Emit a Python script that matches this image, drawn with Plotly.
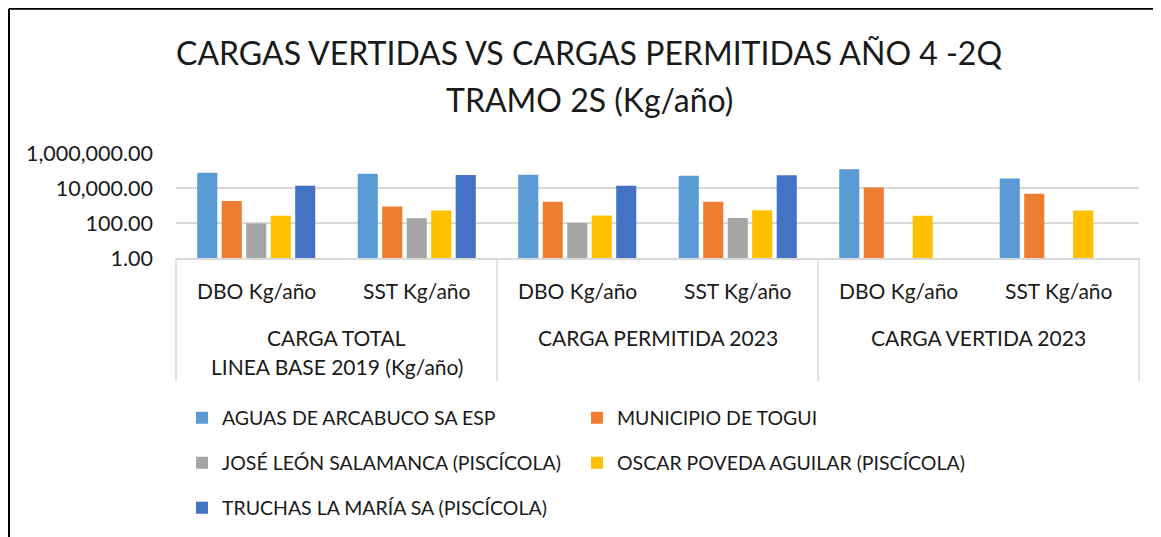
import plotly.graph_objects as go

# ---------------- data ----------------
groups = ["CARGA TOTAL<br>LINEA BASE 2019 (Kg/año)", "CARGA PERMITIDA 2023", "CARGA VERTIDA 2023"]
params = ["DBO Kg/año", "SST Kg/año"]
series_names = [
    "AGUAS DE ARCABUCO SA ESP",
    "MUNICIPIO DE TOGUI",
    "JOSÉ LEÓN SALAMANCA (PISCÍCOLA)",
    "OSCAR POVEDA AGUILAR (PISCÍCOLA)",
    "TRUCHAS LA MARÍA SA (PISCÍCOLA)",
]
aguas = [74600, 66000, 57500, 50600, 116000, 34500]
togui = [1820, 870, 1660, 1660, 10700, 4700]
jose = [93, 184, 100, 190, None, None]
oscar = [263, 525, 270, 540, 263, 525]
truchas = [13300, 55500, 13300, 53000, None, None]
series_values = [aguas, togui, jose, oscar, truchas]
colors = ["#5B9BD5", "#ED7D31", "#A5A5A5", "#FFC000", "#4472C4"]
y_ticks = [1, 100, 10000, 1000000]
title_lines = ["CARGAS VERTIDAS VS CARGAS PERMITIDAS AÑO 4 -2Q", "TRAMO 2S (Kg/año)"]

# ---------------- layout helpers ----------------
# page body has an 8px margin: figure origin sits at (8, 8) of the window
OX, OY = 8, 8
W, H = 1161 - OX, 537 - OY
L, R, T, B = 176 - OX, 1139 - OX, 153 - OY, 258.5 - OY

def fx(x):  # window px -> paper x
    return (x - OX - L) / (R - L)
def fy(y):  # window px -> paper y
    return (B - (y - OY)) / (B - T)
def cx(x):  # window px -> container x
    return (x - OX) / W
def cy(y):  # window px -> container y
    return 1 - (y - OY) / H

FONT = "Lato"
TXT = "#1a1a1a"
GRID = "#D9D9D9"

x_outer = [g for g in groups for p in params]
x_inner = [p for g in groups for p in params]
ncat = len(x_inner)

# legend slots: two columns, three rows (one single-entry legend per slot)
legend_ids = ["legend", "legend4", "legend2", "legend5", "legend3"]
legend_pos = {
    "legend": (182, 418), "legend4": (577, 418),
    "legend2": (182, 463), "legend5": (577, 463),
    "legend3": (182, 508),
}

fig = go.Figure()
for name, vals, col, lg in zip(series_names, series_values, colors, legend_ids):
    fig.add_trace(go.Bar(
        x=[x_outer, x_inner], y=vals, name=name,
        marker=dict(color=col, line=dict(width=0)),
        legend=lg,
    ))

legend_common = dict(
    orientation="h", xanchor="left", yanchor="middle",
    xref="container", yref="container",
    font=dict(family=FONT, size=19.5, color=TXT),
    bgcolor="rgba(0,0,0,0)", borderwidth=0,
)
legend_layout = {k: dict(x=cx(px_), y=cy(py_), **legend_common) for k, (px_, py_) in legend_pos.items()}

fig.update_layout(
    width=W, height=H,
    margin=dict(l=L, r=W - R, t=T, b=H - B, autoexpand=False),
    paper_bgcolor="white", plot_bgcolor="white",
    barmode="group", bargap=0.237, bargroupgap=0.18,
    showlegend=True,
    **legend_layout,
    xaxis=dict(
        type="multicategory",
        showgrid=False, showticklabels=False, showdividers=False,
        showline=True, linecolor=GRID, linewidth=1.5,
        ticks="",
    ),
    yaxis=dict(
        type="log", range=[0, 6],
        tickmode="array", tickvals=y_ticks,
        ticktext=[f"{v:,.2f}" for v in y_ticks],
        showgrid=True, gridcolor=GRID, gridwidth=1.5,
        zeroline=False, showline=False, ticks="",
        tickfont=dict(family=FONT, size=21.5, color=TXT),
        ticklabelstandoff=22,
    ),
)

# category labels (inner level) and group labels (outer level)
for i, lab in enumerate(x_inner):
    fig.add_annotation(text=lab, x=(i + 0.5) / ncat, y=fy(291), xref="paper", yref="paper",
                       showarrow=False, xanchor="center", yanchor="middle",
                       font=dict(family=FONT, size=21, color=TXT))
per = len(params)
for gi, g in enumerate(groups):
    xc = (gi * per + per / 2) / ncat
    for li, line in enumerate(g.split("<br>")):
        fig.add_annotation(text=line, x=xc, y=fy(338 + 30 * li), xref="paper", yref="paper",
                           showarrow=False, xanchor="center", yanchor="middle",
                           font=dict(family=FONT, size=21, color=TXT))
# group dividers
for gi in range(len(groups) + 1):
    xd = gi * per / ncat
    fig.add_shape(type="line", xref="paper", yref="paper", x0=xd, x1=xd, y0=0, y1=fy(382),
                  line=dict(color=GRID, width=1.5))

# Title (two lines)
fig.add_annotation(text=title_lines[0], x=fx(589), y=fy(52), xref="paper", yref="paper",
                   showarrow=False, xanchor="center", yanchor="middle",
                   font=dict(family=FONT, size=32, color=TXT))
fig.add_annotation(text=title_lines[1], x=fx(589), y=fy(99), xref="paper", yref="paper",
                   showarrow=False, xanchor="center", yanchor="middle",
                   font=dict(family=FONT, size=32, color=TXT))

# Outer chart frame (top and left edges visible)
fig.add_shape(type="line", xref="paper", yref="paper", x0=fx(9), x1=fx(1170), y0=fy(8), y1=fy(8),
              line=dict(color="black", width=2))
fig.add_shape(type="line", xref="paper", yref="paper", x0=fx(9), x1=fx(9), y0=fy(8), y1=fy(545),
              line=dict(color="black", width=2))

fig.write_html("out.html")
